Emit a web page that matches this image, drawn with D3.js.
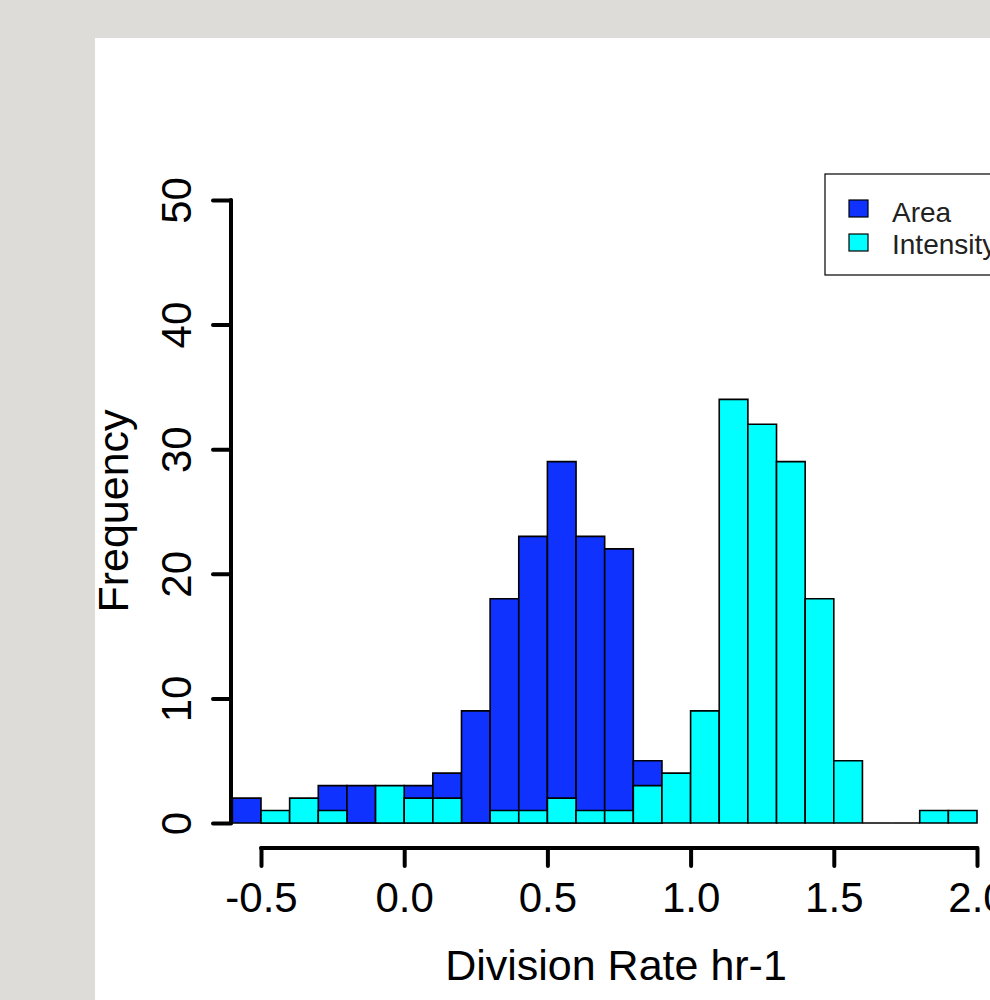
<!DOCTYPE html>
<html>
<head>
<meta charset="utf-8">
<script src="https://cdn.jsdelivr.net/npm/d3@7"></script>
<style>
  body { margin: 0; background: #dddcd8; }
  svg { display: block; }
  text { font-family: "Liberation Sans", Arial, sans-serif; }
</style>
</head>
<body>
<div id="hist"></div>
<script>
// histogram bins (width 0.1), counts
const areaStart = -0.6;
const areaCounts = [2, 0, 0, 3, 3, 0, 3, 4, 9, 18, 23, 29, 23, 22, 5];
const intensityStart = -0.5;
const intensityCounts = [1, 2, 1, 0, 3, 2, 2, 0, 1, 1, 2, 1, 1, 3, 4, 9, 34, 32, 29, 18, 5, 0, 0, 1, 1];
const binWidth = 0.1;

const xTicks = [-0.5, 0.0, 0.5, 1.0, 1.5, 2.0];
const yTicks = [0, 10, 20, 30, 40, 50];
const seriesNames = ["Area", "Intensity"];
const seriesColors = ["#0f32ff", "#00ffff"];

const W = 990, H = 1000;

const svg = d3.select("#hist")
  .append("svg")
    .attr("width", W)
    .attr("height", H);

// grey backdrop + white plot panel
svg.append("rect").attr("width", W).attr("height", H).attr("fill", "#dddcd8");
svg.append("rect").attr("x", 95).attr("y", 38).attr("width", W - 95).attr("height", H - 38).attr("fill", "#fff");

// scales
const x = d3.scaleLinear().domain([-0.5, 2.0]).range([261, 977]);
const y = d3.scaleLinear().domain([0, 50]).range([823, 200]);

function toBins(start, counts) {
  return counts.map((c, i) => ({x0: +(start + i * binWidth).toFixed(2), x1: +(start + (i + 1) * binWidth).toFixed(2), n: c}));
}

const series = [toBins(areaStart, areaCounts), toBins(intensityStart, intensityCounts)];

// bars as closed paths so empty bins still show as a flat line (like R)
function barPath(d) {
  const p = d3.path();
  p.rect(x(d.x0), y(d.n), x(d.x1) - x(d.x0), y(0) - y(d.n));
  return p.toString();
}

// Area first, Intensity drawn over it
series.forEach((bins, k) => {
  svg.append("g")
    .selectAll("path")
    .data(bins)
    .join("path")
      .attr("d", barPath)
      .attr("fill", seriesColors[k])
      .attr("stroke", "#000")
      .attr("stroke-width", 1.6);
});

// x axis (R style, detached below the bars)
const xAxisY = 848;
const gx = svg.append("g")
  .attr("transform", `translate(0,${xAxisY})`)
  .call(d3.axisBottom(x).tickValues(xTicks).tickSize(18).tickFormat(d => d.toFixed(1)));
gx.select(".domain").remove();
gx.append("line")
  .attr("x1", x(xTicks[0])).attr("x2", x(xTicks[xTicks.length - 1]))
  .attr("stroke", "#000").attr("stroke-width", 4).attr("stroke-linecap", "round");
gx.selectAll(".tick line").attr("stroke-width", 4).attr("stroke-linecap", "round");
gx.selectAll(".tick text")
  .attr("y", 64).attr("dy", 0)
  .attr("fill", "#000")
  .style("font-size", "42px");

// y axis
const yAxisX = 231;
const gy = svg.append("g")
  .attr("transform", `translate(${yAxisX},0)`)
  .call(d3.axisLeft(y).tickValues(yTicks).tickSize(18));
gy.select(".domain").remove();
gy.append("line")
  .attr("y1", y(0)).attr("y2", y(50))
  .attr("stroke", "#000").attr("stroke-width", 4).attr("stroke-linecap", "round");
gy.selectAll(".tick line").attr("stroke-width", 4).attr("stroke-linecap", "round");
gy.selectAll(".tick text")
  .attr("x", 0).attr("dy", 0)
  .attr("text-anchor", "middle")
  .attr("transform", "translate(-40,0) rotate(-90)")
  .attr("fill", "#000")
  .style("font-size", "42px");

// axis titles
svg.append("text")
  .attr("x", 616).attr("y", 980)
  .attr("text-anchor", "middle")
  .style("font-size", "43px")
  .text("Division Rate hr-1");

svg.append("text")
  .attr("transform", "translate(128,511) rotate(-90)")
  .attr("text-anchor", "middle")
  .style("font-size", "43px")
  .text("Frequency");

// legend
const legend = svg.append("g").attr("transform", "translate(825,174)");
legend.append("rect")
  .attr("width", 220).attr("height", 101)
  .attr("fill", "#fff").attr("stroke", "#000").attr("stroke-width", 1.2);
seriesNames.forEach((name, i) => {
  legend.append("rect")
    .attr("x", 24).attr("y", 26 + i * 34)
    .attr("width", 19).attr("height", 17)
    .attr("fill", seriesColors[i]).attr("stroke", "#000").attr("stroke-width", 1.2);
  legend.append("text")
    .attr("x", 67).attr("y", 48 + i * 32)
    .attr("fill", "#222")
    .style("font-size", "28px")
    .text(name);
});
</script>
</body>
</html>
